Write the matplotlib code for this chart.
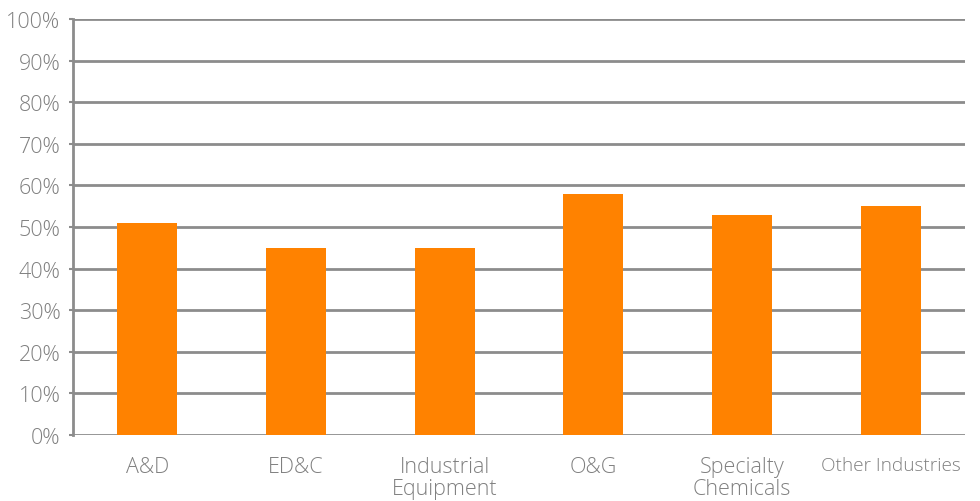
import matplotlib
matplotlib.use("Agg")
import matplotlib.pyplot as plt
from matplotlib.ticker import FuncFormatter

categories = ["A&D", "ED&C", "Industrial\nEquipment", "O&G", "Specialty\nChemicals", "Other Industries"]
values = [51, 45, 45, 58, 53, 55]
yticks = [0, 10, 20, 30, 40, 50, 60, 70, 80, 90, 100]

plt.rcParams['font.family'] = ['Open Sans', 'DejaVu Sans']

fig = plt.figure(figsize=(9.8, 5.02), dpi=100)
ax = fig.add_axes([73/980, (502-436)/502, (965-73)/980, (436-20)/502])

grid_color = "#8c8c8c"
text_color = "#808080"
x = list(range(len(categories)))
ax.bar(x, values, width=0.405, color="#FF8200", zorder=3)

ax.set_xlim(-0.5, len(categories) - 0.5)
ax.set_ylim(0, 100)
ax.set_yticks(yticks)
ax.yaxis.set_major_formatter(FuncFormatter(lambda v, p: f"{int(v)}%"))
ax.yaxis.grid(True, color=grid_color, linewidth=2, zorder=1)
ax.set_axisbelow(True)

for s in ["top", "right", "bottom"]:
    ax.spines[s].set_visible(False)
ax.spines["left"].set_color(grid_color)
ax.spines["left"].set_linewidth(2)

ax.tick_params(axis="y", length=3, width=1.5, color=grid_color, labelcolor=text_color,
               labelsize=15.5, pad=6)
ax.tick_params(axis="x", length=0, labelcolor=text_color, labelsize=15.5, pad=15)
ax.set_xticks(x)
ax.set_xticklabels(categories, linespacing=1.05)
for lbl in ax.get_xticklabels():
    lbl.set_fontweight("light")
    if lbl.get_text() == "Other Industries":
        lbl.set_fontsize(13.7)
for lbl in ax.get_yticklabels():
    lbl.set_fontweight("light")

fig.savefig("out.png", dpi=100)
